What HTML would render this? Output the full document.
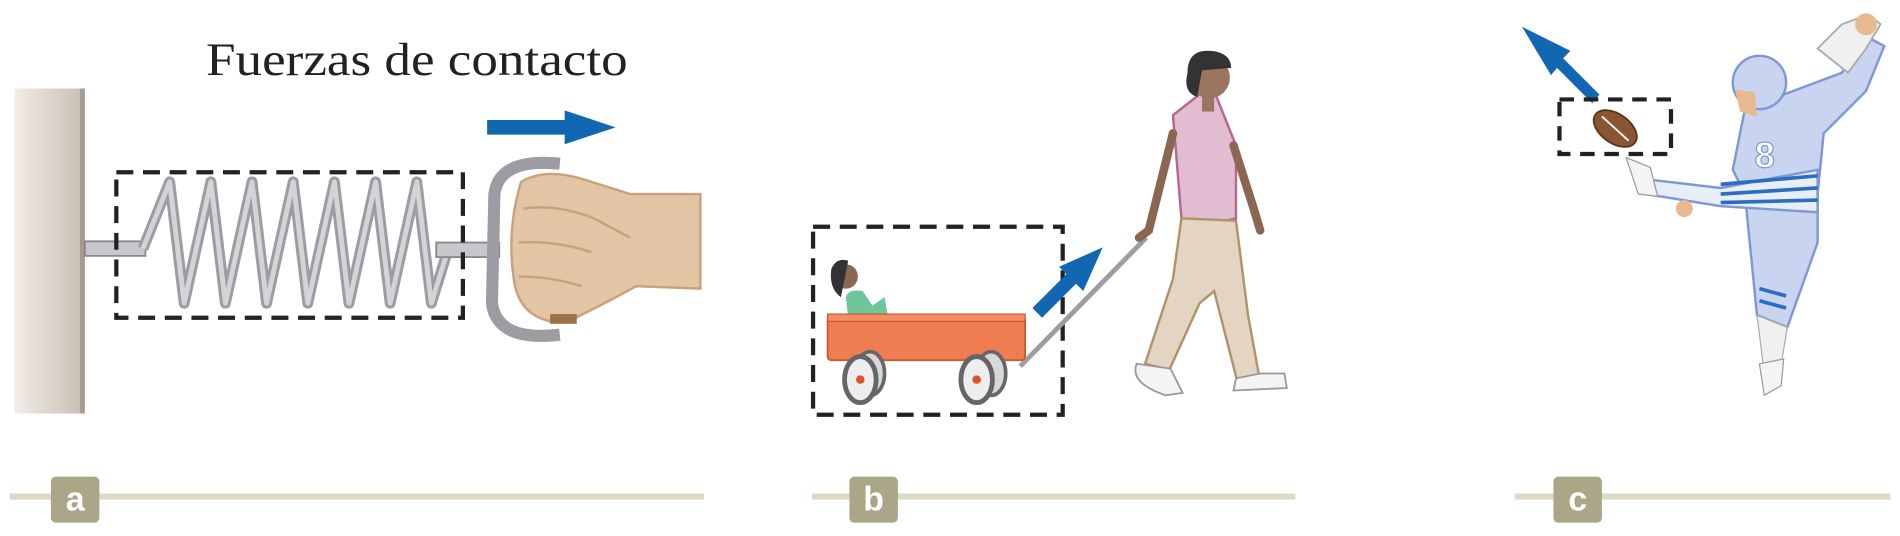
<!DOCTYPE html>
<html><head><meta charset="utf-8"><style>
html,body{margin:0;padding:0;background:#fff;width:1900px;height:536px;overflow:hidden}
svg{display:block}
</style></head><body>
<svg width="1900" height="536" viewBox="0 0 1568 442" preserveAspectRatio="none" xmlns="http://www.w3.org/2000/svg">
<defs>
<linearGradient id="wall" x1="0" x2="1"><stop offset="0" stop-color="#f2ede8"/><stop offset="1" stop-color="#c9bdb2"/></linearGradient>
</defs>
<g>
<text x="170" y="62" font-family="Liberation Serif, serif" font-size="38" textLength="348" lengthAdjust="spacingAndGlyphs" fill="#222">Fuerzas de contacto</text>
<rect x="12" y="73" width="58" height="268" fill="url(#wall)"/>
<rect x="66" y="73" width="4" height="268" fill="#a89a8e"/>
<path d="M402 99 L466 99 L466 91 L508 105 L466 119 L466 111 L402 111 Z" fill="#1167b1"/>
<rect x="70" y="199" width="50" height="12" fill="#c8c8cc" stroke="#888" stroke-width="1.5"/>
<path d="M118 205 L140 150 L152 250 L174 150 L186 250 L208 150 L220 250 L242 150 L254 250 L276 150 L288 250 L310 150 L322 250 L344 150 L356 250 L370 205" fill="none" stroke="#9c9ca2" stroke-width="9" stroke-linejoin="round"/>
<path d="M118 205 L140 150 L152 250 L174 150 L186 250 L208 150 L220 250 L242 150 L254 250 L276 150 L288 250 L310 150 L322 250 L344 150 L356 250 L370 205" fill="none" stroke="#d4d4d8" stroke-width="4" stroke-linejoin="round"/>
<rect x="360" y="200" width="52" height="12" fill="#c8c8cc" stroke="#888" stroke-width="1.5"/>
<rect x="96" y="142" width="286" height="120" fill="none" stroke="#222" stroke-width="3.5" stroke-dasharray="14 8"/>
<path d="M462 135 Q412 130 408 160 L406 250 Q410 282 462 276" fill="none" stroke="#9c9ca2" stroke-width="10"/>
<path d="M430 150 Q450 138 482 148 L520 160 L578 160 L578 238 L525 236 Q500 250 475 262 L460 266 Q428 262 424 230 Q418 190 430 150 Z" fill="#e2c5a4" stroke="#c8a27a" stroke-width="2"/>
<path d="M432 172 Q460 168 490 180 M428 200 Q458 198 488 208 M428 228 Q455 228 480 236 M490 180 L520 196" fill="none" stroke="#c8a27a" stroke-width="2"/>
<rect x="454" y="259" width="22" height="8" fill="#a07048"/>
</g>
<g>
<rect x="671" y="187" width="206" height="155" fill="none" stroke="#222" stroke-width="3.5" stroke-dasharray="14 8"/>
<line x1="842" y1="302" x2="946" y2="196" stroke="#9c9ca2" stroke-width="4"/>
<path d="M700 262 L698 245 Q700 238 712 240 L720 252 L730 245 L733 262 Z" fill="#6fc69a"/>
<circle cx="698" cy="228" r="10" fill="#8b6650"/>
<path d="M686 222 Q690 212 700 215 L694 245 Q684 238 686 222 Z" fill="#333"/>
<rect x="683" y="261" width="163" height="36" rx="3" fill="#f07d52" stroke="#c75a30" stroke-width="1.5"/>
<rect x="683" y="259" width="163" height="6" fill="#f28d66" stroke="#c75a30" stroke-width="1"/>
<g>
<ellipse cx="718" cy="308" rx="12" ry="18" fill="#d8d8d8" stroke="#666" stroke-width="3"/>
<ellipse cx="710" cy="313" rx="13" ry="19" fill="#eee" stroke="#666" stroke-width="4"/>
<circle cx="710" cy="313" r="3.5" fill="#e0502a"/>
<ellipse cx="818" cy="308" rx="12" ry="18" fill="#d8d8d8" stroke="#666" stroke-width="3"/>
<ellipse cx="806" cy="313" rx="13" ry="19" fill="#eee" stroke="#666" stroke-width="4"/>
<circle cx="806" cy="313" r="3.5" fill="#e0502a"/>
</g>
<path d="M852 254 L880 226 L874 220 L910 204 L894 240 L888 234 L860 262 Z" fill="#1167b1"/>
<g>
<path d="M968 95 L1000 70 L1020 120 L1020 180 L998 186 L975 180 Z" fill="#e2bcd0" stroke="#b66690" stroke-width="2"/>
<path d="M975 180 L1020 182 L1030 260 L1040 315 L1022 318 L1002 240 L990 250 L965 305 L945 300 L968 230 Z" fill="#e4d4c2" stroke="#b0936a" stroke-width="2"/>
<path d="M968 110 L948 190 L940 196" fill="none" stroke="#8b6650" stroke-width="7" stroke-linecap="round"/>
<path d="M1018 120 L1034 170 L1040 190" fill="none" stroke="#8b6650" stroke-width="7" stroke-linecap="round"/>
<circle cx="998" cy="64" r="17" fill="#9a7560"/>
<path d="M980 60 Q980 40 1000 42 Q1016 44 1016 56 L992 58 L988 80 Q976 76 980 60 Z" fill="#333"/>
<rect x="992" y="76" width="10" height="16" fill="#9a7560"/>
<path d="M938 300 Q932 316 962 326 L976 324 L966 304 Z" fill="#f4f4f4" stroke="#999" stroke-width="1.5"/>
<path d="M1020 312 L1018 322 L1062 320 L1060 308 L1040 308 Z" fill="#f4f4f4" stroke="#999" stroke-width="1.5"/>
</g>
</g>
<g>
<path d="M1314 85 L1285 56 L1280 62 L1256 22 L1296 42 L1290 48 L1320 78 Z" fill="#1167b1"/>
<rect x="1287" y="82" width="92" height="45" fill="none" stroke="#222" stroke-width="3.5" stroke-dasharray="12 8"/>
<g>
<path d="M1440 90 L1520 60 L1540 30 L1555 38 L1540 75 L1505 110 L1500 160 L1440 160 L1430 140 Z" fill="#c8d4f0" stroke="#7e98d4" stroke-width="2"/>
<path d="M1500 40 L1520 20 L1542 12 L1552 20 L1540 40 L1525 60 Z" fill="#f0f0f0" stroke="#aaa" stroke-width="1.5"/>
<circle cx="1540" cy="20" r="9" fill="#e8b890"/>
<path d="M1440 160 L1500 150 L1500 200 L1475 270 L1450 260 Z" fill="#c8d4f0" stroke="#7e98d4" stroke-width="2"/>
<path d="M1450 260 L1475 270 L1470 300 L1455 300 Z" fill="#f0f0f0" stroke="#aaa"/>
<path d="M1452 238 L1474 244 M1452 248 L1474 254" stroke="#2e6cc0" stroke-width="3"/>
<path d="M1452 300 L1472 296 L1470 318 L1456 326 Z" fill="#f4f4f4" stroke="#999"/>
<path d="M1500 140 L1420 155 L1360 148 L1358 160 L1420 170 L1500 175 Z" fill="#e8eef8" stroke="#7e98d4" stroke-width="2"/>
<path d="M1420 152 L1500 145 M1420 160 L1500 155 M1420 167 L1500 165" stroke="#2e6cc0" stroke-width="3"/>
<path d="M1342 130 L1352 160 L1368 162 L1362 138 Z" fill="#f4f4f4" stroke="#999"/>
<circle cx="1390" cy="172" r="7" fill="#e8b890"/>
<circle cx="1452" cy="68" r="22" fill="#c8d4f0" stroke="#7e98d4" stroke-width="2"/>
<path d="M1432 74 L1448 76 L1450 96 L1436 92 Z" fill="#e8b890"/>
<text x="1448" y="138" font-family="Liberation Sans, sans-serif" font-size="30" font-weight="bold" fill="#fff" stroke="#7e98d4" stroke-width="1">8</text>
</g>
<ellipse cx="1333" cy="106" rx="20" ry="12" transform="rotate(35 1333 106)" fill="#8a5530" stroke="#5a3418" stroke-width="1.5"/>
<line x1="1322" y1="96" x2="1344" y2="116" stroke="#fff" stroke-width="1.5"/>
</g>
<g>
<rect x="8" y="407" width="573" height="5" fill="#dcd9c6"/>
<rect x="670" y="407" width="399" height="5" fill="#dcd9c6"/>
<rect x="1250" y="407" width="310" height="5" fill="#dcd9c6"/>
<rect x="42" y="393" width="40" height="38" rx="4" fill="#aaa687"/>
<rect x="701" y="393" width="40" height="38" rx="4" fill="#aaa687"/>
<rect x="1282" y="393" width="40" height="38" rx="4" fill="#aaa687"/>
<text x="62" y="421" text-anchor="middle" font-family="Liberation Sans, sans-serif" font-size="28" font-weight="bold" fill="#fff">a</text>
<text x="721" y="421" text-anchor="middle" font-family="Liberation Sans, sans-serif" font-size="28" font-weight="bold" fill="#fff">b</text>
<text x="1302" y="421" text-anchor="middle" font-family="Liberation Sans, sans-serif" font-size="28" font-weight="bold" fill="#fff">c</text>
</g>
</svg>
</body></html>
